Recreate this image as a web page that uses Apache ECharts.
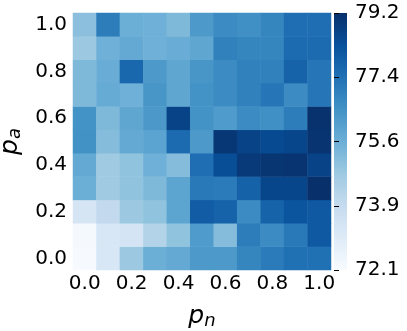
<!DOCTYPE html>
<html>
<head>
<meta charset="utf-8">
<script src="https://cdn.jsdelivr.net/npm/echarts@6/dist/echarts.min.js"></script>
<style>
  html, body { margin: 0; padding: 0; background: #fff; }
  #chart { width: 407px; height: 331px; }
</style>
</head>
<body>
<div id="chart"></div>
<script>
// p_n along x, p_a along y
const pnLabels = ['0.0', '0.1', '0.2', '0.3', '0.4', '0.5', '0.6', '0.7', '0.8', '0.9', '1.0'];
const paLabels = ['0.0', '0.1', '0.2', '0.3', '0.4', '0.5', '0.6', '0.7', '0.8', '0.9', '1.0'];

// one row per p_a (bottom to top), values over p_n
const row00 = [72.15, 73.2, 74.8, 75.65, 75.8, 76.3, 76.3, 76.9, 77.15, 77.45, 77.45];
const row01 = [72.2, 73.2, 73.35, 74.3, 75.0, 76.25, 75.2, 77.1, 76.7, 77.2, 78.1];
const row02 = [73.3, 73.95, 74.8, 75.0, 75.95, 78.0, 77.8, 76.7, 77.8, 78.2, 78.1];
const row03 = [75.65, 74.75, 75.0, 75.3, 75.95, 77.2, 77.15, 77.85, 78.6, 78.6, 79.2];
const row04 = [75.8, 74.75, 75.0, 75.6, 75.2, 77.5, 78.4, 78.95, 79.05, 79.1, 78.7];
const row05 = [76.55, 75.2, 75.8, 76.0, 77.6, 76.3, 79.0, 78.7, 78.5, 78.6, 79.1];
const row06 = [76.5, 75.3, 75.9, 76.35, 78.7, 76.5, 76.25, 76.7, 76.6, 77.1, 79.15];
const row07 = [75.3, 75.75, 75.6, 76.4, 75.9, 76.5, 76.7, 77.0, 77.3, 76.7, 77.3];
const row08 = [75.3, 75.7, 77.7, 76.3, 75.9, 76.4, 76.7, 77.0, 77.0, 77.8, 77.3];
const row09 = [74.8, 75.6, 75.8, 75.6, 75.7, 75.9, 77.0, 76.9, 76.9, 77.6, 77.6];
const row10 = [75.1, 77.1, 75.65, 75.6, 75.3, 76.3, 76.7, 76.6, 76.9, 77.5, 77.5];
const rows = [row00, row01, row02, row03, row04, row05, row06, row07, row08, row09, row10];

const vMin = 72.1;
const vMax = 79.2;
const cbTicks = ['72.1', '73.9', '75.6', '77.4', '79.2'];

// matplotlib "Blues"
const blues = ['#f7fbff', '#deebf7', '#c6dbef', '#9ecae1', '#6baed6', '#4292c6', '#2171b5', '#08519c', '#08306b'];

const cells = [];
rows.forEach((r, yi) => {
  r.forEach((v, xi) => cells.push([xi, yi, v]));
});

const font = 'DejaVu Sans';
const nameRich = () => ({
  i: { fontSize: 25, fontStyle: 'italic', fontFamily: font, color: '#000' },
  s: { fontSize: 18, fontStyle: 'italic', fontFamily: font, color: '#000', verticalAlign: 'bottom', padding: [10, 0, 0, 0] }
});
const chart = echarts.init(document.getElementById('chart'));

chart.setOption({
  animation: false,
  backgroundColor: '#fff',
  grid: [
    { left: 73, top: 13, width: 258, height: 257, outerBoundsMode: 'none' },
    {
      left: 334, top: 13, width: 13, height: 257, show: true, borderWidth: 0,
      outerBoundsMode: 'none',
      backgroundColor: new echarts.graphic.LinearGradient(0, 1, 0, 0,
        blues.map((c, i) => ({ offset: i / (blues.length - 1), color: c })))
    }
  ],
  xAxis: [
    {
      type: 'category', data: pnLabels, gridIndex: 0,
      axisLine: { show: false }, axisTick: { show: false },
      axisLabel: { interval: 1, color: '#000', fontSize: 20, fontFamily: font, margin: 4 },
      name: '{i|p}{s|n}', nameLocation: 'middle', nameGap: 32,
      nameTextStyle: { rich: nameRich() }
    },
    { type: 'value', gridIndex: 1, show: false, min: 0, max: 1 }
  ],
  yAxis: [
    {
      type: 'category', data: paLabels, gridIndex: 0,
      axisLine: { show: false }, axisTick: { show: false },
      axisLabel: { interval: 1, color: '#000', fontSize: 20, fontFamily: font, margin: 6 },
      name: '{i|p}{s|a}', nameLocation: 'middle', nameGap: 47, nameRotate: 90,
      nameTextStyle: { rich: nameRich() }
    },
    {
      type: 'value', gridIndex: 1, position: 'right', min: 0, max: 4, interval: 1,
      splitLine: { show: false },
      axisLine: { show: false },
      axisTick: { show: true, length: 5, lineStyle: { color: '#000', width: 1 } },
      axisLabel: {
        color: '#000', fontSize: 20, fontFamily: font, margin: 8,
        formatter: v => cbTicks[v]
      }
    }
  ],
  visualMap: {
    show: false, min: vMin, max: vMax, seriesIndex: 0,
    inRange: { color: blues }
  },
  series: [{
    type: 'heatmap',
    xAxisIndex: 0, yAxisIndex: 0,
    data: cells,
    itemStyle: { borderWidth: 0 },
    emphasis: { disabled: true }
  }]
});
</script>
</body>
</html>
